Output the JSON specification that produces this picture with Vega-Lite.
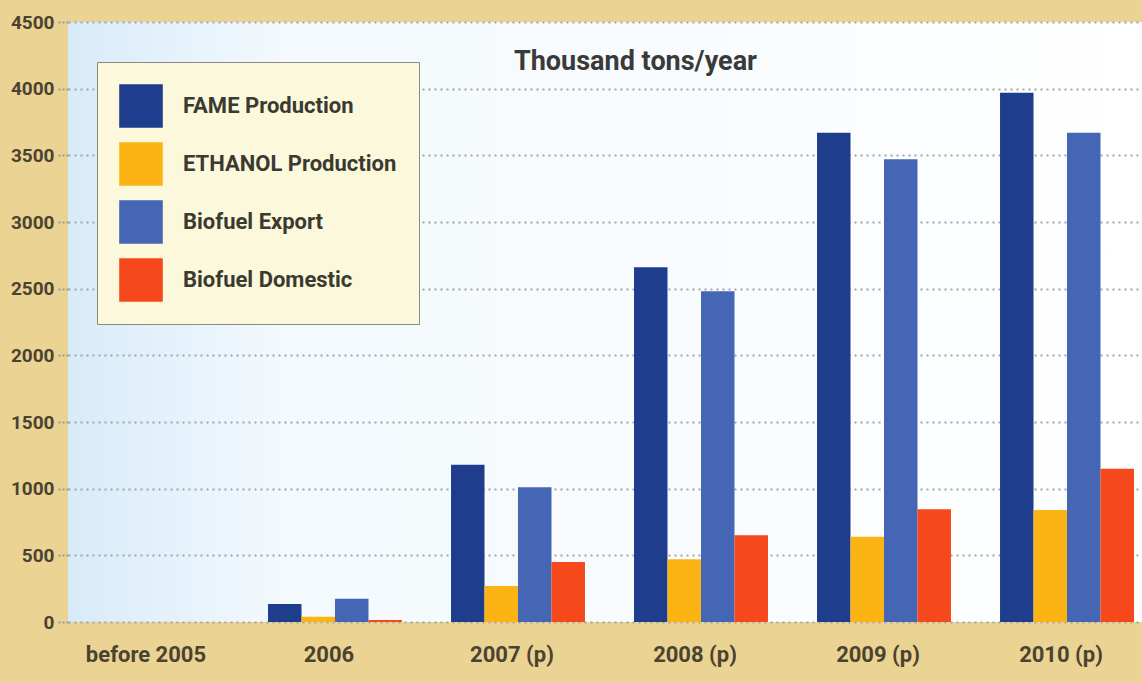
{
  "$schema": "https://vega.github.io/schema/vega-lite/v6.json",
  "autosize": {"type": "none"},
  "width": 1083,
  "height": 600,
  "padding": {"left": 68, "top": 22, "right": 0, "bottom": 60},
  "background": "#ebd394",
  "title": {
    "text": "Thousand tons/year",
    "frame": "group",
    "anchor": "middle",
    "orient": "top",
    "baseline": "alphabetic",
    "offset": -48,
    "dy": 36,
    "dx": 26,
    "font": "Roboto",
    "fontSize": 27,
    "fontWeight": "bold",
    "color": "#3a3a3a"
  },
  "config": {
    "view": {
      "stroke": null,
      "fill": {"gradient": "linear", "x1": 0, "y1": 0, "x2": 1, "y2": 0,
        "stops": [{"offset": 0, "color": "#d8ebf9"}, {"offset": 0.2, "color": "#f3f9fd"}, {"offset": 1, "color": "#ffffff"}]}
    },
    "axis": {
      "labelFont": "Roboto",
      "labelFontWeight": "bold",
      "labelColor": "#4a4330"
    }
  },
  "data": {
    "values": [
      {"year": "before 2005", "series": "FAME Production", "value": 0},
      {"year": "before 2005", "series": "ETHANOL Production", "value": 0},
      {"year": "before 2005", "series": "Biofuel Export", "value": 0},
      {"year": "before 2005", "series": "Biofuel Domestic", "value": 0},
      {"year": "2006", "series": "FAME Production", "value": 135},
      {"year": "2006", "series": "ETHANOL Production", "value": 40},
      {"year": "2006", "series": "Biofuel Export", "value": 175},
      {"year": "2006", "series": "Biofuel Domestic", "value": 15},
      {"year": "2007 (p)", "series": "FAME Production", "value": 1180},
      {"year": "2007 (p)", "series": "ETHANOL Production", "value": 270},
      {"year": "2007 (p)", "series": "Biofuel Export", "value": 1010},
      {"year": "2007 (p)", "series": "Biofuel Domestic", "value": 450},
      {"year": "2008 (p)", "series": "FAME Production", "value": 2660},
      {"year": "2008 (p)", "series": "ETHANOL Production", "value": 470},
      {"year": "2008 (p)", "series": "Biofuel Export", "value": 2480},
      {"year": "2008 (p)", "series": "Biofuel Domestic", "value": 650},
      {"year": "2009 (p)", "series": "FAME Production", "value": 3670},
      {"year": "2009 (p)", "series": "ETHANOL Production", "value": 640},
      {"year": "2009 (p)", "series": "Biofuel Export", "value": 3470},
      {"year": "2009 (p)", "series": "Biofuel Domestic", "value": 845},
      {"year": "2010 (p)", "series": "FAME Production", "value": 3970},
      {"year": "2010 (p)", "series": "ETHANOL Production", "value": 840},
      {"year": "2010 (p)", "series": "Biofuel Export", "value": 3670},
      {"year": "2010 (p)", "series": "Biofuel Domestic", "value": 1150}
    ]
  },
  "mark": {"type": "bar"},
  "encoding": {
    "x": {
      "field": "year",
      "type": "nominal",
      "sort": null,
      "scale": {"paddingInner": 0.268, "paddingOuter": 0.093},
      "axis": {
        "title": null,
        "labelAngle": 0,
        "domain": false,
        "ticks": false,
        "labelPadding": 22,
        "labelOffset": -6,
        "labelFontSize": 22,
        "labelBaseline": "top"
      }
    },
    "xOffset": {
      "field": "series",
      "type": "nominal",
      "sort": ["FAME Production", "ETHANOL Production", "Biofuel Export", "Biofuel Domestic"],
      "scale": {"paddingInner": 0, "paddingOuter": 0}
    },
    "y": {
      "field": "value",
      "type": "quantitative",
      "scale": {"domain": [0, 4500], "nice": false},
      "axis": {
        "title": null,
        "format": "d",
        "values": [0, 500, 1000, 1500, 2000, 2500, 3000, 3500, 4000, 4500],
        "domain": false,
        "tickSize": 10,
        "tickColor": "#9a9a9a",
        "tickDash": [2, 2],
        "tickWidth": 2,
        "labelPadding": 4,
        "labelFontSize": 19,
        "grid": true,
        "gridColor": "#a3a3a3",
        "gridDash": [2, 4],
        "gridWidth": 2
      }
    },
    "color": {
      "field": "series",
      "type": "nominal",
      "sort": ["FAME Production", "ETHANOL Production", "Biofuel Export", "Biofuel Domestic"],
      "scale": {
        "domain": ["FAME Production", "ETHANOL Production", "Biofuel Export", "Biofuel Domestic"],
        "range": ["#1e3d8c", "#fbb414", "#4565b5", "#f5481c"]
      },
      "legend": {
        "title": null,
        "orient": "none",
        "legendX": 29,
        "legendY": 40,
        "fillColor": "#fbf8dc",
        "strokeColor": "#8a8a80",
        "padding": 22,
        "symbolType": "square",
        "symbolSize": 1900,
        "symbolStrokeWidth": 0,
        "symbolOpacity": 1,
        "rowPadding": 14,
        "labelOffset": 20,
        "labelFont": "Roboto",
        "labelFontWeight": "bold",
        "labelFontSize": 22,
        "labelColor": "#3a3a30",
        "labelLimit": 400
      }
    }
  }
}
